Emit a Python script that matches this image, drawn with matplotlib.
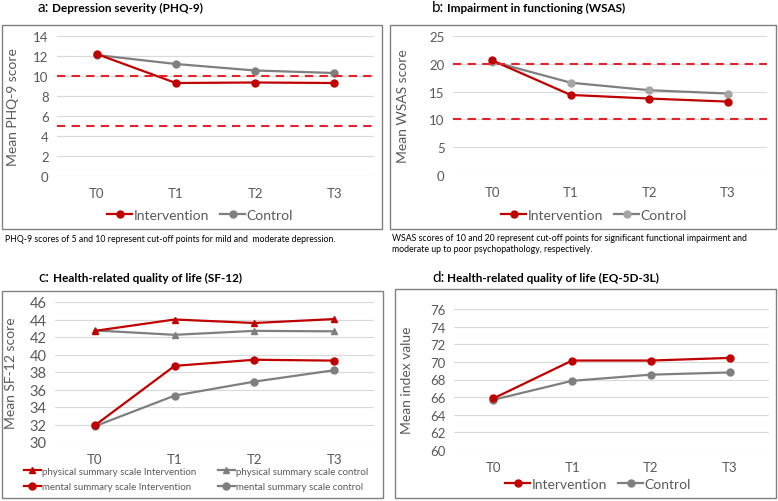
import matplotlib
matplotlib.use("Agg")
import matplotlib.pyplot as plt
from matplotlib.patches import Rectangle

plt.rcParams['font.family'] = ['Lato', 'DejaVu Sans']

# data
times = ["T0", "T1", "T2", "T3"]

phq_int = [12.2, 9.3, 9.35, 9.3]
phq_ctrl = [12.1, 11.2, 10.55, 10.3]
phq_cutoffs = [5, 10]

wsas_int = [20.6, 14.4, 13.75, 13.2]
wsas_ctrl = [20.4, 16.6, 15.25, 14.65]
wsas_cutoffs = [10, 20]

sf_phys_int = [42.7, 44.0, 43.6, 44.05]
sf_phys_ctrl = [42.75, 42.25, 42.7, 42.65]
sf_ment_int = [31.9, 38.7, 39.4, 39.3]
sf_ment_ctrl = [31.8, 35.3, 36.9, 38.2]

eq_int = [65.85, 70.15, 70.15, 70.45]
eq_ctrl = [65.7, 67.85, 68.55, 68.8]

RED = "#C00000"
DASH = "#E2242A"
GRAY = "#7F7F7F"
LIGHT = "#A5A5A5"
TXT = "#595959"

W, H = 778, 502
fig = plt.figure(figsize=(W / 100, H / 100), dpi=100)


def px_axes(left, top, right, bottom):
    return fig.add_axes([left / W, 1 - bottom / H, (right - left) / W, (bottom - top) / H])


def frame(left, top, right, bottom):
    fig.patches.append(Rectangle((left / W, 1 - bottom / H), (right - left) / W, (bottom - top) / H,
                                 transform=fig.transFigure, fill=False, edgecolor="#808080", lw=1.0))


def style(ax, ylo, yhi, step, ylabel, ylab_x):
    ax.set_xlim(-0.5, 3.5)
    ax.set_ylim(ylo, yhi)
    ax.set_yticks(range(ylo, yhi + 1, step))
    ax.set_xticks(range(len(times)))
    ax.set_xticklabels(times)
    for s in ax.spines.values():
        s.set_visible(False)
    ax.grid(axis="y", color="#D9D9D9", lw=0.8)
    ax.set_axisbelow(True)
    ax.tick_params(length=0, labelsize=9.5, labelcolor=TXT)
    ax.tick_params(axis="x", pad=8)
    ax.tick_params(axis="y", pad=6)
    ax.set_ylabel(ylabel, fontsize=10, color=TXT)
    ax.yaxis.set_label_coords(ylab_x, 0.5)


def title(x, y, letter, text):
    fig.text(x / W, 1 - y / H, letter + ":", fontsize=11, ha="left", va="center")
    fig.text((x + 15) / W, 1 - y / H, text, fontsize=8.5, fontweight="bold", ha="left", va="center")


# a: PHQ-9
frame(2, 26, 382, 230)
ax = px_axes(57, 37, 374, 177)
ax.plot(range(4), phq_int, color=RED, marker="o", ms=5, lw=1.6, label="Intervention", zorder=3)
ax.plot(range(4), phq_ctrl, color=GRAY, marker="o", ms=5, lw=1.6, label="Control", zorder=2)
for c in phq_cutoffs:
    ax.axhline(c, color=DASH, lw=1.5, dashes=(4, 3), zorder=4)
style(ax, 0, 14, 2, "Mean PHQ-9 score", -0.12)
ax.legend(loc="center", bbox_to_anchor=(200 / W, 1 - 216 / H), bbox_transform=fig.transFigure,
          ncol=2, frameon=False, fontsize=10, labelcolor=TXT, handlelength=1.8,
          handletextpad=0.1, columnspacing=0.8)
title(37, 8, "a", "Depression severity (PHQ-9)")
fig.text(5 / W, 1 - 240 / H, "PHQ-9 scores of 5 and 10 represent cut-off points for mild and  moderate depression.",
         fontsize=6.3, ha="left", va="center")

# b: WSAS
frame(390, 26, 776, 230)
ax = px_axes(453, 37, 767, 176)
ax.plot(range(4), wsas_int, color=RED, marker="o", ms=5, lw=1.6, label="Intervention", zorder=3)
ax.plot(range(4), wsas_ctrl, color=GRAY, marker="o", ms=5, lw=1.6, label="Control", zorder=2,
        markerfacecolor=LIGHT, markeredgecolor=LIGHT)
for c in wsas_cutoffs:
    ax.axhline(c, color=DASH, lw=1.5, dashes=(4, 3), zorder=4)
style(ax, 0, 25, 5, "Mean WSAS score", -0.14)
ax.legend(loc="center", bbox_to_anchor=(594 / W, 1 - 216 / H), bbox_transform=fig.transFigure,
          ncol=2, frameon=False, fontsize=10, labelcolor=TXT, handlelength=1.8,
          handletextpad=0.1, columnspacing=0.8)
title(432, 8, "b", "Impairment in functioning (WSAS)")
fig.text(392 / W, 1 - 234 / H,
         "WSAS scores of 10 and 20 represent cut-off points for significant functional impairment and\n"
         "moderate up to poor psychopathology, respectively.",
         fontsize=6.3, ha="left", va="top", linespacing=1.35)

# c: SF-12
frame(2, 292, 383, 499)
ax = px_axes(55, 303, 374, 443)
p1, = ax.plot(range(4), sf_phys_int, color=RED, marker="^", ms=5, lw=1.6,
              label="physical summary scale Intervention", zorder=3)
p2, = ax.plot(range(4), sf_phys_ctrl, color=GRAY, marker="^", ms=5, lw=1.6,
              label="physical summary scale control", zorder=2)
m1, = ax.plot(range(4), sf_ment_int, color=RED, marker="o", ms=5, lw=1.6,
              label="mental summary scale Intervention", zorder=3)
m2, = ax.plot(range(4), sf_ment_ctrl, color=GRAY, marker="o", ms=5, lw=1.6,
              label="mental summary scale control", zorder=2)
style(ax, 30, 46, 2, "Mean SF-12 score", -0.12)
ax.tick_params(axis="y", labelsize=10.5)
# legend fills column by column, so order as int/int then control/control
hs = [p1, m1, p2, m2]
ax.legend(hs, [h.get_label() for h in hs], loc="center", bbox_to_anchor=(196 / W, 1 - 480 / H),
          bbox_transform=fig.transFigure, ncol=2, frameon=False, fontsize=7, labelcolor=TXT,
          handlelength=1.8, handletextpad=0.1, columnspacing=2.2, labelspacing=0.7)
title(38, 278, "c", "Health-related quality of life (SF-12)")

# d: EQ-5D-3L
frame(395, 290, 776, 499)
ax = px_axes(454, 310, 769, 451)
ax.plot(range(4), eq_int, color=RED, marker="o", ms=5, lw=1.6, label="Intervention", zorder=3)
ax.plot(range(4), eq_ctrl, color=GRAY, marker="o", ms=5, lw=1.6, label="Control", zorder=2)
style(ax, 60, 76, 2, "Mean index value", -0.13)
ax.legend(loc="center", bbox_to_anchor=(598 / W, 1 - 485 / H), bbox_transform=fig.transFigure,
          ncol=2, frameon=False, fontsize=10, labelcolor=TXT, handlelength=1.8,
          handletextpad=0.1, columnspacing=0.8)
title(432, 278, "d", "Health-related quality of life (EQ-5D-3L)")

fig.savefig("out.png", dpi=100, facecolor="white")
